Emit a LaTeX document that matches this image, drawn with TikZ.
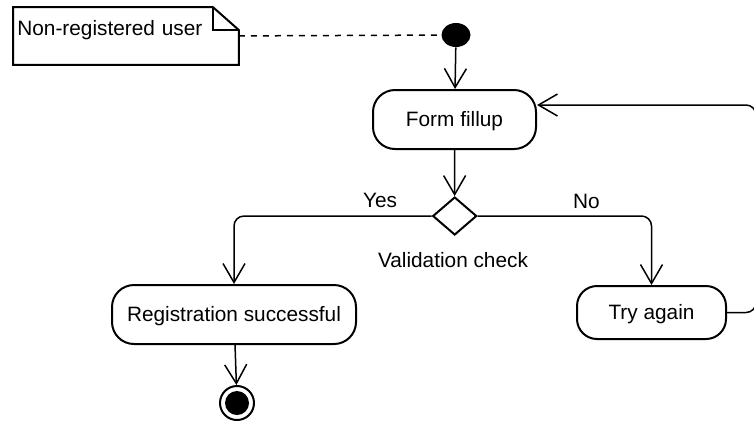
\documentclass[tikz,border=0pt]{standalone}
\usepackage{fontspec}
\setmainfont{Liberation Sans}
\usetikzlibrary{arrows.meta,shapes.geometric}
\begin{document}
\begin{tikzpicture}[x=0.5pt,y=-0.5pt,
    font=\fontsize{10.4}{12}\selectfont,
    activity/.style={draw,line width=1pt,rounded corners=11pt,inner sep=0pt,text height=8.5pt,text depth=1.5pt},
    decision/.style={draw,diamond,line width=1pt,inner sep=0pt,minimum width=22pt,minimum height=19pt},
    flow/.style={line width=0.75pt,-{Straight Barb[length=9.5pt,width=11pt,line width=0.75pt]}},
    notebox/.style={anchor=north west,inner xsep=2pt,inner ysep=0pt,text width=108.5pt,align=left,text height=14pt,text depth=14.5pt}]
  \useasboundingbox (0,0) rectangle (754,420);
  \draw
    (13,7) node[notebox] (note){Non-registered user}
    (456,35) node[ellipse,fill=black,minimum width=14.5pt,minimum height=12pt,inner sep=0pt] (start){}
    (454.5,119.5) node[activity,minimum width=81.5pt,minimum height=29.5pt] (form){Form fillup}
    (454.7,216) node[decision] (check){}
    (453,260) node (checklbl){Validation check}
    (380,200) node (yes){Yes}
    (586.5,201.5) node (no){No}
    (234,314.5) node[activity,minimum width=122pt,minimum height=29.5pt] (reg){Registration successful}
    (651.5,312.5) node[activity,minimum width=74.5pt,minimum height=26.5pt,rounded corners=10pt] (retry){Try again}
    (237,403) node[circle,draw,line width=1pt,minimum size=17pt,inner sep=0pt,
      path picture={\fill (path picture bounding box.center) circle (6pt);}] (end){};
  \coordinate (back) at (756,105);
  \draw[line width=1pt] (note.north west) -- ([xshift=-13pt]note.north east)
    -- ([yshift=-11.5pt]note.north east) -- (note.south east) -- (note.south west) -- cycle;
  \draw[line width=1pt] ([xshift=-13pt]note.north east) |- ([yshift=-11.5pt]note.north east);
  \begin{scope}[rounded corners=5pt]
    \draw[dashed,line width=0.75pt] (note.east) -- (start);
    \draw[flow] (start) -- (form);
    \draw[flow] (form) -- (check);
    \draw[flow] (check.west) -| (reg.north);
    \draw[flow] (check.east) -| (retry.north);
    \draw[flow] (reg) -- (end);
    \draw[flow] (retry.east) -| (back) -- ([yshift=7.25pt]form.east);
  \end{scope}
\end{tikzpicture}
\end{document}
